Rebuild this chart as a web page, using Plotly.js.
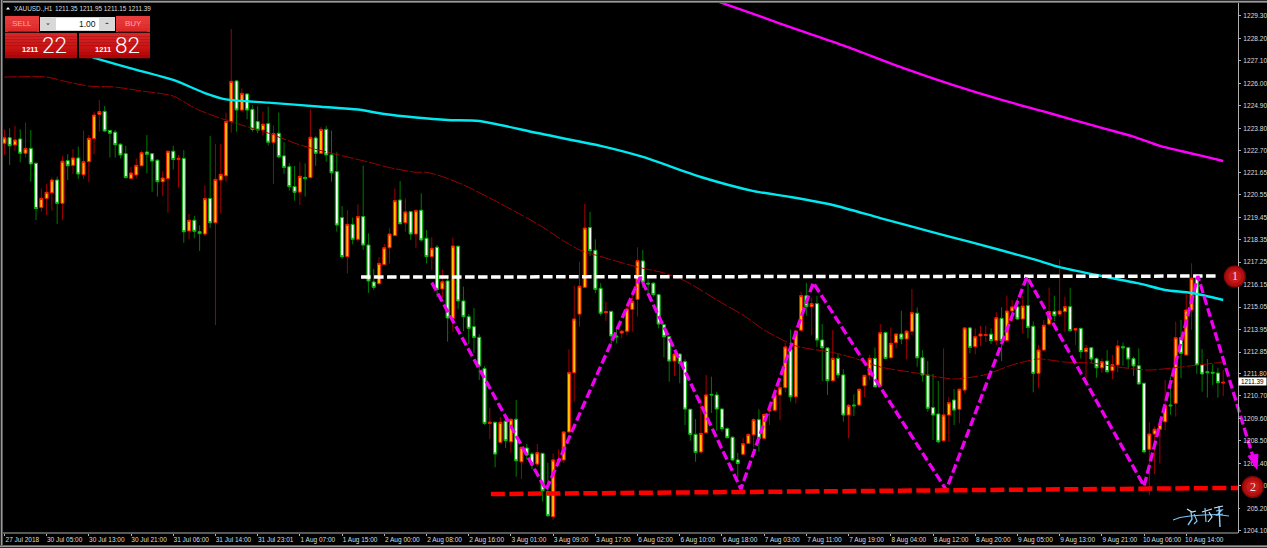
<!DOCTYPE html>
<html><head><meta charset="utf-8">
<script src="https://cdn.plot.ly/plotly-3.0.1.min.js"></script>
<style>html,body{margin:0;padding:0;background:#000;overflow:hidden}#c{width:1267px;height:548px}</style>
</head><body><div id="c"></div>
<script>
const direction="UDUDUDDUUU"+"DUDUDUUUUD"+"DDDDUUUDDD"+"UUDUDUDDUD"+"UUUUDUDDDU"+"DUDDDDUDUD"+"UDDDDUDUDD"+"DUUUUDUDUD"+"DUDUDUDDDD"+"DDUDUDUDUD"+"DUDDUUUUUU"+"UDDDUDDUUU"+"UDDDDDDUDD"+"DDUUDDDDDD"+"UUUDUUUUUD"+"UUDUDDDUDD"+"UDUUUDUDUU"+"DUUDDDDDUU"+"DUUDUUUDUD"+"UUDUDDUUUD"+"UUDUDUDDUD"+"UUDDDDDUUU"+"UDUDUUDDDDDU";
const highs=[1223.75,1223.80,1223.93,1223.75,1224.08,1223.72,1222.09,1220.86,1221.08,1221.40,
1221.44,1222.45,1222.54,1222.79,1222.90,1223.69,1223.47,1224.62,1225.19,1224.89,
1223.72,1223.72,1223.07,1222.94,1221.92,1222.33,1222.71,1223.47,1222.58,1222.28,
1221.71,1222.69,1222.95,1222.50,1222.74,1219.61,1219.51,1219.05,1221.01,1223.43,
1223.03,1223.03,1224.57,1228.66,1226.17,1225.76,1225.51,1224.94,1224.89,1224.62,
1224.86,1223.95,1224.57,1223.12,1222.09,1221.96,1222.14,1222.09,1224.73,1223.43,
1223.88,1223.92,1223.69,1222.63,1220.00,1219.80,1219.44,1220.08,1221.97,1218.66,
1216.92,1217.49,1218.14,1218.91,1220.86,1221.22,1220.37,1219.77,1219.84,1220.62,
1218.82,1218.47,1218.09,1216.90,1216.52,1218.45,1218.04,1216.05,1214.71,1215.01,
1213.73,1212.17,1210.13,1209.44,1209.66,1209.77,1209.57,1210.50,1208.20,1208.35,
1207.96,1208.35,1207.91,1207.43,1207.89,1208.09,1208.95,1212.98,1216.10,1217.27,
1220.10,1219.72,1218.37,1216.22,1215.31,1214.87,1214.09,1213.93,1215.24,1215.64,
1217.98,1217.85,1216.43,1216.26,1215.69,1214.22,1213.64,1212.79,1212.79,1212.50,
1210.06,1209.57,1210.59,1211.73,1211.64,1210.91,1210.10,1209.17,1208.71,1207.92,
1208.66,1208.87,1209.61,1210.05,1209.82,1210.10,1211.08,1211.32,1213.29,1213.96,
1213.93,1215.80,1216.24,1215.51,1215.59,1214.22,1213.06,1213.93,1212.75,1212.01,
1210.31,1210.78,1211.03,1211.73,1212.71,1213.08,1214.22,1213.85,1214.06,1213.77,
1214.87,1213.93,1215.94,1215.04,1212.95,1212.41,1211.78,1211.43,1213.03,1210.66,
1211.04,1211.03,1214.04,1214.09,1214.01,1214.14,1214.13,1214.01,1214.80,1215.04,
1215.61,1215.40,1215.48,1215.61,1216.38,1214.34,1213.20,1214.42,1216.00,1215.61,
1217.39,1215.56,1216.00,1214.01,1214.04,1213.20,1213.06,1212.59,1212.54,1212.95,
1212.71,1213.44,1213.31,1213.11,1212.62,1213.03,1211.35,1209.41,1209.20,1209.61,
1211.48,1211.64,1214.34,1214.42,1215.73,1217.19,1216.46,1213.00,1212.51,1212.25,1212.08,1211.97];
const bodyTops=[1223.34,1223.34,1223.23,1223.28,1222.82,1222.82,1222.09,1220.37,1220.67,1221.27,
1221.27,1222.19,1222.22,1222.35,1222.35,1222.17,1223.31,1224.45,1224.62,1224.63,
1223.69,1223.61,1223.02,1222.56,1221.61,1221.99,1222.61,1222.64,1222.56,1222.24,
1221.37,1222.68,1222.68,1222.33,1222.33,1219.30,1219.30,1218.74,1220.36,1220.37,
1221.30,1221.55,1224.13,1226.10,1226.12,1225.51,1225.48,1224.73,1224.13,1224.00,
1224.03,1223.54,1223.56,1222.45,1221.92,1220.95,1221.45,1221.40,1223.36,1223.33,
1223.75,1223.75,1222.50,1221.68,1219.43,1219.10,1219.10,1219.48,1219.48,1218.09,
1216.28,1217.19,1217.96,1218.63,1220.26,1220.29,1219.71,1219.72,1219.77,1219.79,
1218.42,1217.93,1217.98,1216.29,1216.33,1218.04,1218.03,1215.35,1214.58,1214.09,
1213.57,1212.04,1209.41,1209.41,1209.41,1209.46,1209.56,1209.56,1208.19,1208.15,
1207.86,1207.92,1207.89,1206.01,1207.57,1207.58,1208.94,1211.84,1214.47,1216.07,
1218.92,1218.94,1217.83,1215.97,1214.83,1214.84,1213.64,1213.87,1214.96,1215.33,
1217.32,1217.31,1216.22,1216.22,1215.66,1214.19,1213.60,1212.75,1212.75,1212.38,
1210.05,1208.82,1208.87,1210.75,1210.78,1210.75,1210.06,1209.10,1208.68,1207.57,
1208.36,1208.82,1209.54,1209.54,1209.80,1210.00,1210.75,1211.10,1213.10,1212.98,
1213.88,1215.61,1215.61,1215.22,1215.22,1213.44,1213.05,1212.54,1212.54,1211.73,
1210.24,1210.26,1211.03,1211.71,1212.54,1212.54,1213.80,1213.80,1213.28,1213.73,
1213.73,1213.87,1214.78,1214.75,1212.57,1211.73,1210.13,1209.82,1209.77,1210.37,
1210.50,1211.03,1214.03,1214.03,1213.60,1213.73,1213.70,1213.72,1214.53,1214.50,
1214.86,1215.06,1215.06,1215.10,1215.12,1214.11,1212.95,1214.16,1214.83,1214.84,
1214.86,1215.07,1215.07,1213.99,1214.01,1213.03,1213.06,1212.52,1212.38,1212.41,
1212.23,1213.15,1213.11,1213.06,1212.52,1212.18,1211.32,1208.84,1209.07,1209.31,
1210.22,1210.26,1213.55,1213.55,1214.91,1216.46,1216.46,1212.22,1211.89,1211.86,1211.82,1211.37];
const bodyBottoms=[1223.07,1222.95,1222.99,1222.58,1222.58,1222.06,1219.88,1219.93,1220.37,1220.65,
1220.13,1220.13,1221.97,1221.99,1221.57,1221.53,1222.17,1223.30,1224.49,1223.67,
1223.56,1223.00,1222.50,1221.39,1221.35,1221.52,1221.97,1222.53,1222.20,1221.19,
1221.19,1221.35,1222.28,1222.28,1218.74,1218.78,1218.76,1218.65,1218.63,1219.18,
1219.18,1221.27,1221.48,1224.13,1224.70,1224.70,1224.70,1223.75,1223.72,1223.72,
1223.12,1223.12,1222.41,1221.89,1220.95,1220.67,1220.68,1221.34,1221.39,1222.58,
1222.58,1222.50,1221.63,1219.07,1217.52,1217.52,1218.37,1218.37,1218.09,1216.33,
1216.02,1216.20,1217.13,1217.96,1218.55,1219.13,1219.18,1218.63,1218.63,1218.34,
1217.52,1217.52,1215.92,1215.94,1214.52,1214.50,1215.35,1214.58,1214.01,1213.57,
1212.17,1209.36,1209.36,1207.86,1208.43,1208.51,1208.46,1207.53,1207.48,1207.81,
1207.40,1207.37,1206.06,1204.84,1204.79,1207.55,1207.57,1208.94,1211.84,1214.71,
1216.02,1217.81,1215.92,1214.75,1214.78,1213.64,1213.59,1213.78,1213.87,1214.94,
1215.43,1216.28,1216.18,1215.66,1214.22,1213.60,1212.41,1212.41,1212.30,1210.06,
1208.82,1207.94,1207.96,1208.90,1210.75,1210.06,1209.10,1208.66,1207.57,1207.40,
1207.85,1208.38,1208.80,1208.63,1208.63,1209.96,1210.00,1210.75,1211.11,1210.66,
1210.66,1213.92,1215.07,1215.07,1213.44,1213.06,1211.45,1211.45,1211.73,1209.77,
1209.77,1210.22,1210.26,1211.20,1211.73,1211.15,1211.19,1212.54,1212.57,1213.31,
1213.49,1213.49,1213.87,1212.57,1211.73,1210.10,1209.77,1208.46,1208.51,1209.77,
1210.01,1210.05,1210.99,1213.08,1213.11,1213.64,1213.67,1213.41,1213.41,1213.41,
1213.41,1214.86,1214.47,1214.47,1214.06,1211.81,1211.81,1212.95,1214.22,1214.63,
1214.71,1214.83,1213.90,1213.93,1212.87,1212.87,1212.51,1212.08,1212.08,1211.89,
1211.94,1212.22,1213.06,1212.51,1212.17,1211.29,1207.97,1208.09,1208.84,1209.07,
1209.44,1210.22,1210.34,1212.79,1212.71,1214.91,1212.22,1211.78,1211.84,1211.82,1211.35,1211.33];
const lows=[1222.50,1222.01,1222.71,1222.14,1222.38,1221.19,1219.31,1219.72,1219.56,1219.77,
1219.12,1219.31,1221.27,1221.57,1221.32,1221.32,1221.16,1222.54,1223.64,1223.64,
1222.37,1222.37,1222.33,1221.35,1221.30,1221.35,1221.96,1221.60,1220.70,1220.46,
1220.49,1219.67,1221.79,1220.90,1218.20,1218.37,1218.42,1217.80,1218.53,1218.92,
1214.17,1219.64,1221.19,1223.59,1223.64,1224.62,1224.24,1223.64,1223.56,1223.47,
1222.95,1221.08,1222.33,1221.57,1220.75,1220.26,1220.05,1220.46,1221.35,1221.96,
1222.55,1222.17,1221.19,1218.74,1217.41,1216.70,1218.12,1218.25,1217.85,1215.75,
1215.89,1216.16,1217.11,1217.19,1218.53,1219.12,1218.74,1218.34,1217.93,1218.25,
1217.19,1216.87,1215.54,1215.50,1213.36,1213.83,1214.96,1213.88,1213.24,1212.80,
1211.48,1209.28,1208.59,1207.21,1208.40,1208.15,1207.92,1206.75,1206.64,1207.60,
1207.13,1207.24,1205.53,1204.79,1204.63,1207.40,1207.42,1208.94,1210.42,1214.09,
1216.02,1217.55,1215.73,1214.63,1214.38,1213.24,1213.28,1213.52,1213.68,1213.85,
1214.58,1215.98,1215.64,1215.56,1214.01,1212.59,1211.40,1211.68,1211.32,1209.28,
1208.51,1207.48,1207.94,1208.87,1209.87,1209.00,1208.95,1208.63,1207.53,1206.62,
1207.81,1208.35,1208.19,1207.97,1208.59,1209.28,1209.96,1209.52,1210.89,1210.42,
1210.34,1213.88,1214.63,1213.68,1213.11,1211.43,1210.75,1211.37,1211.57,1209.44,
1208.63,1209.72,1210.21,1210.64,1211.48,1211.13,1211.15,1212.50,1212.54,1213.03,
1213.23,1212.50,1213.68,1212.13,1211.40,1209.93,1208.55,1208.38,1208.46,1208.46,
1209.28,1209.36,1210.86,1212.79,1212.74,1213.15,1213.33,1213.24,1213.20,1212.41,
1213.36,1214.34,1214.42,1213.77,1213.52,1210.88,1211.08,1212.90,1214.17,1214.37,
1214.58,1213.85,1213.85,1213.20,1212.54,1211.52,1212.30,1211.59,1211.84,1211.81,
1211.52,1211.86,1212.18,1212.02,1211.68,1211.27,1207.89,1205.85,1206.88,1207.40,
1209.03,1209.77,1209.69,1211.57,1212.66,1213.93,1211.78,1210.91,1210.62,1211.24,1210.62,1210.70];

const cyanBars=[0,18,24,32,38,42,50,60,67,72,78,84,90,101,113,121,132,142,149,157,166,175,183,195,200,207,215,220,225,231];
const cyanPrices=[1228.81,1227.18,1226.74,1226.17,1225.53,1225.22,1225.06,1224.86,1224.72,1224.50,1224.33,1224.21,1224.16,1223.57,1222.94,1222.40,1221.42,1220.73,1220.44,1220.05,1219.41,1218.78,1218.24,1217.40,1217.01,1216.62,1216.21,1215.89,1215.74,1215.40];
const magentaBars=[135,143,151,160,170,180,189,198,208,214,219,223,227,231];
const magentaPrices=[1230.03,1229.30,1228.57,1227.76,1226.78,1225.90,1225.19,1224.55,1223.82,1223.40,1222.94,1222.69,1222.45,1222.20];
const maroonBars=[0,8,12,16,21,26,32,36,40,45,50,55,58,65,69,73,78,80,83,87,92,98,102,106,109,114,120,125,129,136,140,144,150,157,161,166,173,180,186,191,196,201,206,211,217,223,231];
const maroonPrices=[1226.31,1226.31,1226.07,1225.87,1225.82,1225.63,1225.38,1224.80,1224.38,1223.96,1223.57,1223.08,1222.84,1222.40,1222.15,1221.88,1221.65,1221.65,1221.44,1221.03,1220.39,1219.56,1218.97,1218.29,1217.85,1217.45,1217.01,1216.72,1216.33,1215.25,1214.66,1213.93,1213.15,1212.83,1212.56,1212.12,1211.82,1211.53,1211.75,1212.22,1212.51,1212.36,1212.31,1212.12,1211.97,1212.12,1212.36];
const resistanceBars=[67.6,229.8];
const resistancePrices=[1216.52,1216.57];
const supportBars=[92.2,233.8];
const supportPrices=[1205.90,1206.20];
const zigzagBars=[81,102.65,120.5,139.6,153.3,178.5,193.8,216,226.2,237.2];
const zigzagPrices=[1216.25,1206.10,1216.52,1206.15,1216.25,1206.10,1216.54,1206.29,1216.57,1207.25];
const yTickLabels=["1229.30","1228.20","1227.10","1226.00","1224.90","1223.80","1222.70","1221.65","1220.55","1219.45","1218.35","1217.25","1216.15","1215.05","1213.95","1212.85","1211.80","1210.70","1209.60","1208.50","1207.40","1206.30","1205.20","1204.10"];
const xTickLabels=["27 Jul 2018","30 Jul 05:00","30 Jul 13:00","30 Jul 21:00","31 Jul 06:00","31 Jul 14:00","31 Jul 23:01","1 Aug 07:00","1 Aug 15:00","2 Aug 00:00","2 Aug 08:00","2 Aug 16:00","3 Aug 01:00","3 Aug 09:00","3 Aug 17:00","6 Aug 02:00","6 Aug 10:00","6 Aug 18:00","7 Aug 03:00","7 Aug 11:00","7 Aug 19:00","8 Aug 04:00","8 Aug 12:00","8 Aug 20:00","9 Aug 05:00","9 Aug 13:00","9 Aug 21:00","10 Aug 06:00","10 Aug 14:00"];
const markerBars=[233.2,236.6];
const markerPrices=[1216.55,1206.25];
const lastPrice=1211.39;
const arrowTipBar=237.4, arrowTipPrice=1207.12;

const bars=highs.map((_,i)=>i);
const isUp=i=>direction[i]==="U";
const opens=bars.map(i=>isUp(i)?bodyBottoms[i]:bodyTops[i]);
const closes=bars.map(i=>isUp(i)?bodyTops[i]:bodyBottoms[i]);

const W=1267,H=548,ML=3,MT=3,MR=0,MB=15;
const px=x=>(x-ML)/(W-ML-MR), py=y=>(H-MB-y)/(H-MT-MB);
const rect=(x0,y0,x1,y1,fill)=>({type:'rect',xref:'paper',yref:'paper',layer:'above',x0:px(x0),x1:px(x1),y0:py(y0),y1:py(y1),fillcolor:fill,line:{width:0}});
const seg=(pts,color,w)=>({type:'path',xref:'paper',yref:'paper',layer:'above',path:pts.map((p,i)=>(i?'L':'M')+px(p[0])+','+py(p[1])).join(' '),line:{color:color,width:w}});
function bands(x0,y0,x1,y1,cols){const n=cols.length,h=(y1-y0)/n;return cols.map((c,i)=>rect(x0,y0+i*h,x1,y0+(i+1)*h+0.3,c));}
const topCols=['#e63c3c','#e43636','#e03030','#dc2a2a'];
const lowCols=['#d82424','#d42020','#d01c1c','#cc1818','#c81414','#c01010','#b80a0a','#ac0606'];

const shapes=[
 rect(0,0,W,3,'#2b2b2b'),rect(0,1,W,2.4,'#9a9a9a'),
 rect(0,0,3,H,'#2b2b2b'),rect(1,0,2.4,H,'#9a9a9a'),
 rect(0,545,W,H,'#2b2b2b'),rect(0,545.5,W,547,'#9a9a9a'),
 seg([[3,533],[1238,533]],'#b0b0b0',1),
 // price-label patch of the original
 rect(1240,503,1247,513,'#000000'),
 // trade panel
 rect(4,15,151,58,'#000000'),
 ...bands(5,16,39,32,topCols),
 ...bands(116,16,150,32,topCols),
 seg([[8,31.5],[37,31.5]],'#b01010',1),seg([[118,31.5],[147,31.5]],'#b01010',1),
 rect(40,17,115,31,'#d8d8d8'),
 rect(56,18,99,30,'#ffffff'),
 ...bands(5,33,77,58,lowCols),
 ...bands(79,33,150,58,lowCols),
 {type:'path',xref:'paper',yref:'paper',layer:'above',path:`M${px(46)},${py(23.5)} L${px(50)},${py(23.5)} L${px(48)},${py(25)} Z`,fillcolor:'#446',line:{width:0}},
 {type:'path',xref:'paper',yref:'paper',layer:'above',path:`M${px(105)},${py(24)} L${px(109)},${py(24)} L${px(107)},${py(22.5)} Z`,fillcolor:'#446',line:{width:0}},
 {type:'path',xref:'paper',yref:'paper',layer:'above',path:`M${px(6)},${py(9.5)} L${px(10)},${py(9.5)} L${px(8)},${py(7)} Z`,fillcolor:'#ffffff',line:{width:0}},
 // arrow head at the end of the zigzag
 {type:'path',xref:'x',yref:'y',xsizemode:'pixel',ysizemode:'pixel',xanchor:arrowTipBar,yanchor:arrowTipPrice,layer:'above',path:'M -9,13 L 1,15 L 0,0 Z',fillcolor:'#f000f0',line:{color:'#f000f0',width:1}},
 // signature strokes
 seg([[1173,520],[1180,517.5],[1190,516],[1203,515],[1217,514.5],[1229,516]],'#7cc4f4',1.2),
 seg([[1187,509],[1192,512],[1196,511]],'#cfeaff',1.2),seg([[1191,512],[1192,519],[1188,525]],'#7cc4f4',1.4),seg([[1194,514],[1197,521],[1194,524]],'#7cc4f4',1.2),
 seg([[1202,512],[1212,509]],'#cfeaff',1.2),seg([[1205,508],[1206,522]],'#7cc4f4',1.2),seg([[1209,512],[1212,517],[1208,522]],'#cfeaff',1.2),
 seg([[1214,508],[1223,506]],'#cfeaff',1.2),seg([[1216,511],[1222,510],[1217,515],[1223,514]],'#7cc4f4',1.2),seg([[1219,506],[1220,527]],'#9ad4f8',1.4),
];
// round markers
markerBars.forEach((b,i)=>{
 [[11,'#8c0808'],[9.5,'#b01010'],[6.5,'#c81a1a']].forEach(r=>{
  shapes.push({type:'circle',xref:'x',yref:'y',xsizemode:'pixel',ysizemode:'pixel',xanchor:b,yanchor:markerPrices[i],x0:-r[0],x1:r[0],y0:-r[0],y1:r[0],fillcolor:r[1],line:{width:0},layer:'above'});
 });
});

const T=(x,y,text,size,color,extra)=>Object.assign({xref:'paper',yref:'paper',x:px(x),y:py(y),text:text,showarrow:false,xanchor:'left',yanchor:'middle',font:{family:'Liberation Sans',size:size,color:color},borderpad:0},extra||{});
const annotations=[
 T(13,8.5,'XAUUSD.,H1',6.4,'#dcdcdc'),
 T(54,8.5,'1211.35 1211.95 1211.15 1211.39',6.4,'#dcdcdc'),
 T(22,24,'SELL',8,'#ffa8a8',{xanchor:'center'}),
 T(133,24,'BUY',8,'#ffa8a8',{xanchor:'center'}),
 T(97,23.5,'1.00',8.5,'#111111',{xanchor:'right'}),
 T(39,49.5,'<b>1211</b>',7.5,'#ffffff',{xanchor:'right'}),
 T(41,44.5,'22',22.5,'#ffffff',{font:{family:'Roboto',size:22.5,color:'#ffffff',weight:300}}),
 T(112,49.5,'<b>1211</b>',7.5,'#ffffff',{xanchor:'right'}),
 T(114,44.5,'82',22.5,'#ffffff',{font:{family:'Roboto',size:22.5,color:'#ffffff',weight:300}}),
 {xref:'x',yref:'y',x:markerBars[0],y:markerPrices[0],text:'1',showarrow:false,font:{family:'Liberation Serif',size:12,color:'#f4dede'}},
 {xref:'x',yref:'y',x:markerBars[1],y:markerPrices[1],text:'2',showarrow:false,font:{family:'Liberation Serif',size:12,color:'#f4dede'}},
 {xref:'paper',yref:'y',x:px(1252.5),xanchor:'center',y:lastPrice,text:'1211.39',showarrow:false,bgcolor:'#ffffff',width:27,height:7,borderpad:0,font:{family:'Liberation Sans',size:6.4,color:'#000000'}},
];

const common={x:bars,type:'candlestick',hoverinfo:'skip',showlegend:false,whiskerwidth:0};
const traces=[
 Object.assign({},common,{open:opens,high:highs,low:lows,close:closes,
  increasing:{line:{color:'#a00000',width:1},fillcolor:'rgba(0,0,0,0)'},
  decreasing:{line:{color:'#007a00',width:1},fillcolor:'rgba(0,0,0,0)'}}),
 Object.assign({},common,{open:opens,high:bodyTops,low:bodyBottoms,close:closes,
  increasing:{line:{color:'#f01800',width:1},fillcolor:'#ffc400'},
  decreasing:{line:{color:'#00b000',width:1},fillcolor:'#ffffff'}}),
 {x:maroonBars,y:maroonPrices,type:'scatter',mode:'lines',line:{color:'#a00000',width:1,dash:'12px,2px',shape:'spline',smoothing:0.7},hoverinfo:'skip'},
 {x:cyanBars,y:cyanPrices,type:'scatter',mode:'lines',line:{color:'#00e8f0',width:2.4,shape:'spline',smoothing:0.7},hoverinfo:'skip'},
 {x:magentaBars,y:magentaPrices,type:'scatter',mode:'lines',line:{color:'#ff00ff',width:2.4,shape:'spline',smoothing:0.7},hoverinfo:'skip'},
 {x:resistanceBars,y:resistancePrices,type:'scatter',mode:'lines',line:{color:'#ffffff',width:3.5,dash:'9.5px,3.5px'},hoverinfo:'skip'},
 {x:zigzagBars,y:zigzagPrices,type:'scatter',mode:'lines',line:{color:'#f000f0',width:3.3,dash:'9px,3.5px'},hoverinfo:'skip'},
 {x:supportBars,y:supportPrices,type:'scatter',mode:'lines',line:{color:'#ff0000',width:4.5,dash:'14px,4.5px'},hoverinfo:'skip'},
];
const layout={
 width:W,height:H,showlegend:false,paper_bgcolor:'#000000',plot_bgcolor:'#000000',boxgap:0.22,
 margin:{l:ML,r:MR,t:MT,b:MB,pad:0},
 xaxis:{type:'linear',range:[-0.265,239.3],rangeslider:{visible:false},showgrid:false,zeroline:false,showline:false,
  tickmode:'array',tickvals:xTickLabels.map((_,i)=>i*8),ticktext:xTickLabels,ticks:'outside',ticklen:2,tickcolor:'#b0b0b0',tickwidth:1,
  tickfont:{family:'Liberation Sans',size:6.5,color:'#dcdcdc'},tickangle:0,ticklabelshift:18,ticklabelstandoff:-2,fixedrange:true,automargin:false,ticklabeloverflow:'allow'},
 yaxis:{anchor:'free',position:(1238-ML)/(W-ML-MR),side:'right',range:[1203.993,1229.936],showgrid:false,zeroline:false,showline:true,linecolor:'#b0b0b0',linewidth:1,
  tickmode:'array',tickvals:yTickLabels.map(Number),ticktext:yTickLabels,ticks:'outside',ticklen:2,tickcolor:'#b0b0b0',
  tickfont:{family:'Liberation Sans',size:6.6,color:'#dcdcdc'},ticklabelstandoff:1,fixedrange:true,automargin:false},
 shapes:shapes,annotations:annotations,
};
Plotly.newPlot('c',traces,layout,{displayModeBar:false,staticPlot:true});
</script></body></html>
